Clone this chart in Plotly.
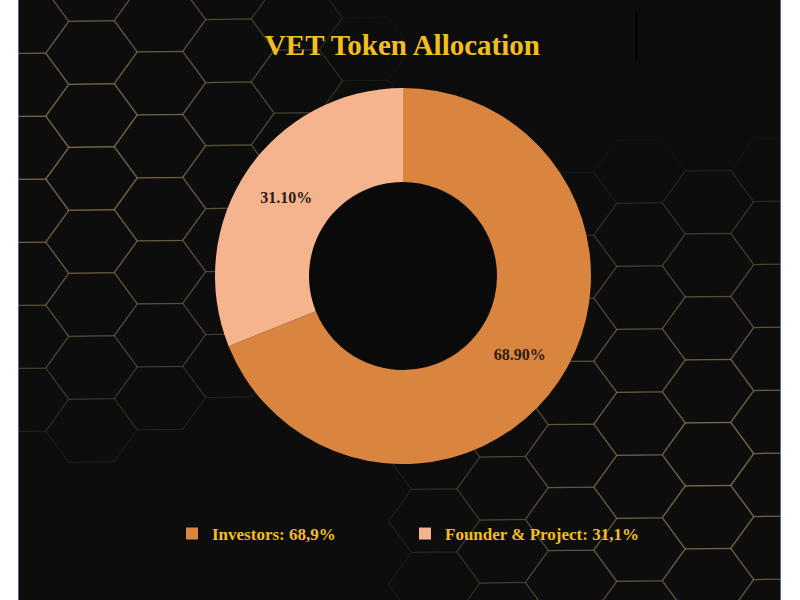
import math
import plotly.graph_objects as go

# ---- data ----
labels = ["Investors: 68,9%", "Founder & Project: 31,1%"]
values = [68.9, 31.1]
colors = ["#D9843F", "#F6B48E"]
title_text = "VET Token Allocation"

W, H = 800, 600
GOLD = "#F2BF1E"
SERIF = "Liberation Serif, Times New Roman, serif"

CX, CY, R = 403, 276, 188  # donut centre / radius in pixels (layout only)

fig = go.Figure()
fig.add_trace(go.Pie(
    labels=labels,
    values=values,
    hole=0.5,
    sort=False,
    direction="clockwise",
    rotation=0,
    marker=dict(colors=colors, line=dict(width=0)),
    texttemplate="%{percent:.2%}",
    textposition="inside",
    insidetextorientation="horizontal",
    textfont=dict(family=SERIF, size=16, color="#2A1C12", weight="bold"),
    domain=dict(x=[(CX - R) / W, (CX + R) / W], y=[(H - CY - R - 2) / H, (H - CY + R + 2) / H]),
    hoverinfo="label+percent",
))

# ---- background decoration ----
def px(x):
    return x / W

def py(y):
    return 1 - y / H

shapes = []
shapes.append(dict(type="rect", xref="paper", yref="paper", x0=px(18), x1=px(781), y0=0, y1=1,
                   fillcolor="#0D0D0D", line=dict(width=0), layer="below"))

def shear(x, y):
    return x, y - 7 * (x - 91.5) / 550

for c in range(-2, 13):
    cx = 91.5 + 68.5 * c
    base = 52.5 if c % 2 == 0 else 21
    for r in range(-1, 11):
        cy = base + 63 * r
        w1 = 1 - math.hypot(cx - 80, cy - 150) / 310
        w2 = 1 - math.hypot(cx - 710, cy - 480) / 320
        w = max(0.0, w1, w2)
        if w <= 0.02:
            continue
        alpha = 0.6 * w ** 0.7
        pts = [(cx - 22.5, cy - 31.5), (cx + 22.5, cy - 31.5), (cx + 45.5, cy),
               (cx + 22.5, cy + 31.5), (cx - 22.5, cy + 31.5), (cx - 45.5, cy)]
        pts = [shear(x, y) for x, y in pts]
        path = "M " + " L ".join(f"{px(x):.5f},{py(y):.5f}" for x, y in pts) + " Z"
        shapes.append(dict(type="path", xref="paper", yref="paper", path=path,
                           line=dict(color=f"rgba(150,128,90,{alpha:.3f})", width=1.2),
                           layer="below"))

# solid black behind the donut hole
hr = R * 0.5 + 1
shapes.append(dict(type="circle", xref="paper", yref="paper",
                   x0=px(CX - hr), x1=px(CX + hr), y0=py(CY + hr), y1=py(CY - hr),
                   fillcolor="#0A0A0A", line=dict(width=0), layer="below"))

shapes.append(dict(type="rect", xref="paper", yref="paper", x0=0, x1=px(18), y0=0, y1=1,
                   fillcolor="white", line=dict(width=0), layer="below"))
shapes.append(dict(type="rect", xref="paper", yref="paper", x0=px(781), x1=1, y0=0, y1=1,
                   fillcolor="white", line=dict(width=0), layer="below"))
for xx in (18.5, 780.5):
    shapes.append(dict(type="line", xref="paper", yref="paper", x0=px(xx), x1=px(xx), y0=0, y1=1,
                       line=dict(color="rgba(110,150,210,0.7)", width=1), layer="below"))
shapes.append(dict(type="line", xref="paper", yref="paper", x0=px(636.5), x1=px(636.5),
                   y0=py(12), y1=py(60), line=dict(color="#000000", width=2), layer="below"))

fig.update_layout(
    width=W, height=H,
    margin=dict(l=0, r=0, t=0, b=0),
    paper_bgcolor="white",
    plot_bgcolor="rgba(0,0,0,0)",
    shapes=shapes,
    title=dict(text=title_text, x=0.503, xanchor="center", y=py(45), yanchor="middle",
               font=dict(family=SERIF, size=29, color=GOLD, weight="bold")),
    showlegend=True,
    legend=dict(orientation="h", x=px(172), xanchor="left", y=py(534), yanchor="middle",
                font=dict(family=SERIF, size=17, color=GOLD, weight="bold"),
                bgcolor="rgba(0,0,0,0)", entrywidth=188, entrywidthmode="pixels",
                itemclick=False, itemdoubleclick=False),
)

fig.write_html("out.html", config={"displayModeBar": False},
               post_script="document.body.style.margin='0';document.body.style.overflow='hidden';")
